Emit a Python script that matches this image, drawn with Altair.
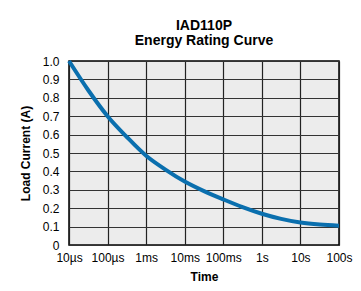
import altair as alt
import pandas as pd

time_s = [1e-5, 3.16e-5, 1e-4, 3.16e-4, 1e-3, 3.16e-3, 1e-2, 3.16e-2, 1e-1, 3.16e-1,
          1, 3.16, 10, 31.6, 100]
current = [1.0, 0.841, 0.70, 0.587, 0.485, 0.41, 0.345, 0.293, 0.248, 0.206,
           0.17, 0.142, 0.122, 0.111, 0.105]
tick_values = [1e-5, 1e-4, 1e-3, 1e-2, 1e-1, 1, 10, 100]
tick_labels = ["10µs", "100µs", "1ms", "10ms", "100ms", "1s", "10s", "100s"]
y_ticks = [0, 0.1, 0.2, 0.3, 0.4, 0.5, 0.6, 0.7, 0.8, 0.9, 1.0]

df = pd.DataFrame({"t": time_s, "i": current})

label_expr = (
    "[" + ",".join(f"'{l}'" for l in tick_labels) + "]"
    "[round(log(datum.value)/LN10)+5]"
)

font = "Liberation Sans"

chart = alt.Chart(df).mark_line(color="#0a6fae", strokeWidth=4, interpolate="monotone").encode(
    x=alt.X("t:Q", scale=alt.Scale(type="log", domain=[1e-5, 100], nice=False),
            axis=alt.Axis(values=tick_values, labelExpr=label_expr, title="Time",
                          grid=True, gridColor="#222", gridWidth=1.2, gridOpacity=1,
                          ticks=False, domain=False, labelFontSize=12, labelFont=font,
                          labelColor="#000", labelPadding=7, titleFont=font, titleFontSize=12,
                          titleFontWeight="bold", titleColor="#000", titlePadding=8,
                          labelFlush=False, labelOverlap=False)),
    y=alt.Y("i:Q", scale=alt.Scale(domain=[0, 1.0], nice=False),
            axis=alt.Axis(values=y_ticks,
                          labelExpr="datum.value == 0 ? '0' : format(datum.value, '.1f')",
                          title="Load Current (A)",
                          grid=True, gridColor="#333", gridWidth=1.2, gridOpacity=1,
                          ticks=False, domain=False, labelFontSize=12, labelFont=font,
                          labelColor="#000", labelPadding=10, titleFont=font, titleFontSize=12,
                          titleFontWeight="bold", titleColor="#000", titlePadding=10,
                          labelFlush=False, labelOverlap=False)),
).properties(
    width=270, height=184,
    title=alt.TitleParams(["IAD110P", "Energy Rating Curve"], font=font, fontSize=14,
                          fontWeight="bold", color="#000", anchor="middle", offset=5,
                          lineHeight=15),
    autosize=alt.AutoSizeParams(type="none"),
    padding={"left": 61, "top": 53, "right": 14, "bottom": 37},
).configure_view(
    fill="#ececec", stroke="#000", strokeWidth=1.5
)

chart.save("out.html", embed_options={"renderer": "svg", "actions": False})
